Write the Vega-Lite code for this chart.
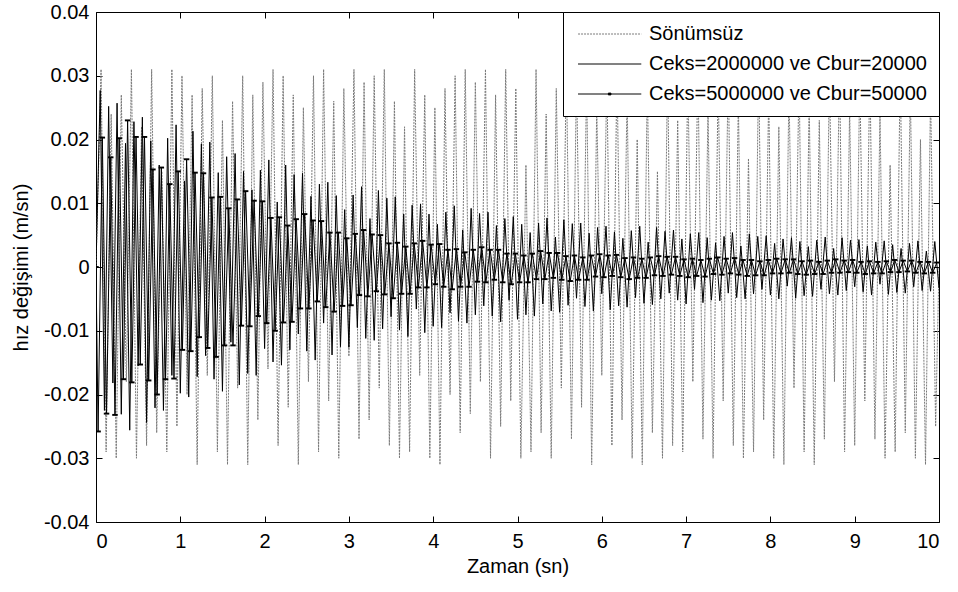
{
"$schema":"https://vega.github.io/schema/vega-lite/v6.json",
"width":843,"height":510,
"autosize":{"type":"none"},
"padding":{"left":96,"top":12,"right":19,"bottom":70},
"background":"white",
"config":{
 "font":"Liberation Sans",
 "view":{"stroke":"black","strokeWidth":1},
 "axis":{"grid":false,"domain":false,"tickColor":"black","tickSize":-6,"labelFontSize":20,"labelColor":"black","titleFontSize":20,"titleFontWeight":"normal","titleColor":"black","labelFont":"Liberation Sans","titleFont":"Liberation Sans"}
},
"datasets":{
"a":[{"t":0,"v":0},{"t":0.06,"v":0.031},{"t":0.12,"v":-0.029},{"t":0.18,"v":0.024},{"t":0.24,"v":-0.030},{"t":0.3,"v":0.027},{"t":0.36,"v":-0.018},{"t":0.42,"v":0.031},{"t":0.48,"v":-0.030},{"t":0.54,"v":0.022},{"t":0.6,"v":-0.028},
{"t":0.66,"v":0.031},{"t":0.72,"v":-0.026},{"t":0.78,"v":0.015},{"t":0.84,"v":-0.029},{"t":0.9,"v":0.031},{"t":0.96,"v":-0.025},{"t":1.02,"v":0.030},{"t":1.08,"v":-0.020},{"t":1.14,"v":0.027},{"t":1.2,"v":-0.031},
{"t":1.26,"v":0.028},{"t":1.32,"v":-0.017},{"t":1.38,"v":0.030},{"t":1.44,"v":-0.029},{"t":1.5,"v":0.023},{"t":1.56,"v":-0.031},{"t":1.62,"v":0.026},{"t":1.68,"v":-0.019},{"t":1.74,"v":0.030},{"t":1.8,"v":-0.031},
{"t":1.86,"v":0.027},{"t":1.92,"v":-0.024},{"t":1.98,"v":0.029},{"t":2.04,"v":-0.016},{"t":2.1,"v":0.031},{"t":2.16,"v":-0.028},{"t":2.22,"v":0.030},{"t":2.28,"v":-0.022},{"t":2.34,"v":0.027},{"t":2.4,"v":-0.031},
{"t":2.46,"v":0.025},{"t":2.52,"v":-0.018},{"t":2.58,"v":0.030},{"t":2.64,"v":-0.029},{"t":2.7,"v":0.031},{"t":2.76,"v":-0.021},{"t":2.82,"v":0.026},{"t":2.88,"v":-0.030},{"t":2.94,"v":0.028},{"t":3.0,"v":-0.014},
{"t":3.06,"v":0.031},{"t":3.12,"v":-0.027},{"t":3.18,"v":0.029},{"t":3.24,"v":-0.024},{"t":3.3,"v":0.030},{"t":3.36,"v":-0.019},{"t":3.42,"v":0.031},{"t":3.48,"v":-0.028},{"t":3.54,"v":0.026},{"t":3.6,"v":-0.030},
{"t":3.66,"v":0.022},{"t":3.72,"v":-0.029},{"t":3.78,"v":0.031},{"t":3.84,"v":-0.017},{"t":3.9,"v":0.027},{"t":3.96,"v":-0.030},{"t":4.02,"v":0.025},{"t":4.08,"v":-0.031},{"t":4.14,"v":0.028},{"t":4.2,"v":-0.020},
{"t":4.26,"v":0.030},{"t":4.32,"v":-0.026},{"t":4.38,"v":0.031},{"t":4.44,"v":-0.023},{"t":4.5,"v":0.029},{"t":4.56,"v":-0.018},{"t":4.62,"v":0.031},{"t":4.68,"v":-0.030},{"t":4.74,"v":0.027},{"t":4.8,"v":-0.025},
{"t":4.86,"v":0.031},{"t":4.92,"v":-0.021},{"t":4.98,"v":0.028},{"t":5.04,"v":-0.030},{"t":5.1,"v":0.016},{"t":5.16,"v":-0.029},{"t":5.22,"v":0.031},{"t":5.28,"v":-0.026},{"t":5.34,"v":0.024},{"t":5.4,"v":-0.030},
{"t":5.46,"v":0.028},{"t":5.52,"v":-0.019},{"t":5.58,"v":0.031},{"t":5.64,"v":-0.027},{"t":5.7,"v":0.030},{"t":5.76,"v":-0.022},{"t":5.82,"v":0.029},{"t":5.88,"v":-0.031},{"t":5.94,"v":0.025},{"t":6.0,"v":-0.017},
{"t":6.06,"v":0.030},{"t":6.12,"v":-0.028},{"t":6.18,"v":0.031},{"t":6.24,"v":-0.024},{"t":6.3,"v":0.027},{"t":6.36,"v":-0.030},{"t":6.42,"v":0.020},{"t":6.48,"v":-0.031},{"t":6.54,"v":0.029},{"t":6.6,"v":-0.026},
{"t":6.66,"v":0.015},{"t":6.72,"v":-0.030},{"t":6.78,"v":0.031},{"t":6.84,"v":-0.028},{"t":6.9,"v":0.023},{"t":6.96,"v":-0.029},{"t":7.02,"v":0.030},{"t":7.08,"v":-0.018},{"t":7.14,"v":0.031},{"t":7.2,"v":-0.027},
{"t":7.26,"v":0.025},{"t":7.32,"v":-0.030},{"t":7.38,"v":0.029},{"t":7.44,"v":-0.021},{"t":7.5,"v":0.031},{"t":7.56,"v":-0.028},{"t":7.62,"v":0.026},{"t":7.68,"v":-0.030},{"t":7.74,"v":0.017},{"t":7.8,"v":-0.029},
{"t":7.86,"v":0.031},{"t":7.92,"v":-0.024},{"t":7.98,"v":0.027},{"t":8.04,"v":-0.030},{"t":8.1,"v":0.022},{"t":8.16,"v":-0.031},{"t":8.22,"v":0.028},{"t":8.28,"v":-0.019},{"t":8.34,"v":0.030},{"t":8.4,"v":-0.029},
{"t":8.46,"v":0.026},{"t":8.52,"v":-0.031},{"t":8.58,"v":0.023},{"t":8.64,"v":-0.027},{"t":8.7,"v":0.030},{"t":8.76,"v":-0.018},{"t":8.82,"v":0.031},{"t":8.88,"v":-0.029},{"t":8.94,"v":0.025},{"t":9.0,"v":-0.028},
{"t":9.06,"v":0.030},{"t":9.12,"v":-0.021},{"t":9.18,"v":0.031},{"t":9.24,"v":-0.027},{"t":9.3,"v":0.024},{"t":9.36,"v":-0.030},{"t":9.42,"v":0.016},{"t":9.48,"v":-0.029},{"t":9.54,"v":0.031},{"t":9.6,"v":-0.026},
{"t":9.66,"v":0.028},{"t":9.72,"v":-0.030},{"t":9.78,"v":0.020},{"t":9.84,"v":-0.031},{"t":9.9,"v":0.027},{"t":9.96,"v":-0.025},{"t":10,"v":0}],
"b":[{"t":0,"v":0},{"t":0.05,"v":0.0277},{"t":0.1,"v":-0.0225},{"t":0.15,"v":0.0252},{"t":0.2,"v":-0.0182},{"t":0.25,"v":0.0257},{"t":0.3,"v":-0.0231},{"t":0.35,"v":0.0194},{"t":0.4,"v":-0.0256},{"t":0.45,"v":0.0228},{"t":0.5,"v":-0.0155},
{"t":0.55,"v":0.0235},{"t":0.6,"v":-0.0244},{"t":0.65,"v":0.0198},{"t":0.7,"v":-0.0221},{"t":0.75,"v":0.0160},{"t":0.8,"v":-0.0225},{"t":0.85,"v":0.0202},{"t":0.9,"v":-0.0170},{"t":0.95,"v":0.0223},{"t":1.0,"v":-0.0198},
{"t":1.05,"v":0.0135},{"t":1.1,"v":-0.0204},{"t":1.15,"v":0.0213},{"t":1.2,"v":-0.0172},{"t":1.25,"v":0.0193},{"t":1.3,"v":-0.0139},{"t":1.35,"v":0.0196},{"t":1.4,"v":-0.0176},{"t":1.45,"v":0.0148},{"t":1.5,"v":-0.0195},
{"t":1.55,"v":0.0173},{"t":1.6,"v":-0.0118},{"t":1.65,"v":0.0178},{"t":1.7,"v":-0.0185},{"t":1.75,"v":0.0150},{"t":1.8,"v":-0.0167},{"t":1.85,"v":0.0121},{"t":1.9,"v":-0.0170},{"t":1.95,"v":0.0152},{"t":2.0,"v":-0.0128},
{"t":2.05,"v":0.0168},{"t":2.1,"v":-0.0149},{"t":2.15,"v":0.0102},{"t":2.2,"v":-0.0154},{"t":2.25,"v":0.0160},{"t":2.3,"v":-0.0130},{"t":2.35,"v":0.0145},{"t":2.4,"v":-0.0105},{"t":2.45,"v":0.0147},{"t":2.5,"v":-0.0132},
{"t":2.55,"v":0.0111},{"t":2.6,"v":-0.0146},{"t":2.65,"v":0.0130},{"t":2.7,"v":-0.0088},{"t":2.75,"v":0.0133},{"t":2.8,"v":-0.0138},{"t":2.85,"v":0.0112},{"t":2.9,"v":-0.0125},{"t":2.95,"v":0.0090},{"t":3.0,"v":-0.0126},
{"t":3.05,"v":0.0113},{"t":3.1,"v":-0.0095},{"t":3.15,"v":0.0126},{"t":3.2,"v":-0.0112},{"t":3.25,"v":0.0076},{"t":3.3,"v":-0.0115},{"t":3.35,"v":0.0120},{"t":3.4,"v":-0.0097},{"t":3.45,"v":0.0108},{"t":3.5,"v":-0.0078},
{"t":3.55,"v":0.0110},{"t":3.6,"v":-0.0099},{"t":3.65,"v":0.0083},{"t":3.7,"v":-0.0109},{"t":3.75,"v":0.0097},{"t":3.8,"v":-0.0066},{"t":3.85,"v":0.0099},{"t":3.9,"v":-0.0103},{"t":3.95,"v":0.0083},{"t":4.0,"v":-0.0093},
{"t":4.05,"v":0.0067},{"t":4.1,"v":-0.0095},{"t":4.15,"v":0.0086},{"t":4.2,"v":-0.0072},{"t":4.25,"v":0.0096},{"t":4.3,"v":-0.0085},{"t":4.35,"v":0.0058},{"t":4.4,"v":-0.0088},{"t":4.45,"v":0.0092},{"t":4.5,"v":-0.0075},
{"t":4.55,"v":0.0084},{"t":4.6,"v":-0.0061},{"t":4.65,"v":0.0086},{"t":4.7,"v":-0.0077},{"t":4.75,"v":0.0065},{"t":4.8,"v":-0.0086},{"t":4.85,"v":0.0076},{"t":4.9,"v":-0.0052},{"t":4.95,"v":0.0079},{"t":5.0,"v":-0.0082},
{"t":5.05,"v":0.0067},{"t":5.1,"v":-0.0075},{"t":5.15,"v":0.0054},{"t":5.2,"v":-0.0077},{"t":5.25,"v":0.0069},{"t":5.3,"v":-0.0058},{"t":5.35,"v":0.0077},{"t":5.4,"v":-0.0069},{"t":5.45,"v":0.0047},{"t":5.5,"v":-0.0071},
{"t":5.55,"v":0.0074},{"t":5.6,"v":-0.0060},{"t":5.65,"v":0.0068},{"t":5.7,"v":-0.0049},{"t":5.75,"v":0.0069},{"t":5.8,"v":-0.0062},{"t":5.85,"v":0.0053},{"t":5.9,"v":-0.0069},{"t":5.95,"v":0.0062},{"t":6.0,"v":-0.0042},
{"t":6.05,"v":0.0064},{"t":6.1,"v":-0.0067},{"t":6.15,"v":0.0055},{"t":6.2,"v":-0.0061},{"t":6.25,"v":0.0045},{"t":6.3,"v":-0.0063},{"t":6.35,"v":0.0057},{"t":6.4,"v":-0.0048},{"t":6.45,"v":0.0064},{"t":6.5,"v":-0.0057},
{"t":6.55,"v":0.0039},{"t":6.6,"v":-0.0059},{"t":6.65,"v":0.0062},{"t":6.7,"v":-0.0050},{"t":6.75,"v":0.0056},{"t":6.8,"v":-0.0041},{"t":6.85,"v":0.0058},{"t":6.9,"v":-0.0052},{"t":6.95,"v":0.0044},{"t":7.0,"v":-0.0058},
{"t":7.05,"v":0.0052},{"t":7.1,"v":-0.0035},{"t":7.15,"v":0.0054},{"t":7.2,"v":-0.0056},{"t":7.25,"v":0.0046},{"t":7.3,"v":-0.0052},{"t":7.35,"v":0.0038},{"t":7.4,"v":-0.0053},{"t":7.45,"v":0.0048},{"t":7.5,"v":-0.0041},
{"t":7.55,"v":0.0054},{"t":7.6,"v":-0.0048},{"t":7.65,"v":0.0033},{"t":7.7,"v":-0.0050},{"t":7.75,"v":0.0052},{"t":7.8,"v":-0.0042},{"t":7.85,"v":0.0048},{"t":7.9,"v":-0.0035},{"t":7.95,"v":0.0049},{"t":8.0,"v":-0.0044},
{"t":8.05,"v":0.0037},{"t":8.1,"v":-0.0050},{"t":8.15,"v":0.0044},{"t":8.2,"v":-0.0030},{"t":8.25,"v":0.0046},{"t":8.3,"v":-0.0049},{"t":8.35,"v":0.0040},{"t":8.4,"v":-0.0045},{"t":8.45,"v":0.0032},{"t":8.5,"v":-0.0046},
{"t":8.55,"v":0.0042},{"t":8.6,"v":-0.0035},{"t":8.65,"v":0.0047},{"t":8.7,"v":-0.0042},{"t":8.75,"v":0.0029},{"t":8.8,"v":-0.0044},{"t":8.85,"v":0.0046},{"t":8.9,"v":-0.0037},{"t":8.95,"v":0.0042},{"t":9.0,"v":-0.0031},
{"t":9.05,"v":0.0043},{"t":9.1,"v":-0.0039},{"t":9.15,"v":0.0033},{"t":9.2,"v":-0.0044},{"t":9.25,"v":0.0039},{"t":9.3,"v":-0.0027},{"t":9.35,"v":0.0041},{"t":9.4,"v":-0.0043},{"t":9.45,"v":0.0035},{"t":9.5,"v":-0.0040},
{"t":9.55,"v":0.0029},{"t":9.6,"v":-0.0041},{"t":9.65,"v":0.0037},{"t":9.7,"v":-0.0031},{"t":9.75,"v":0.0041},{"t":9.8,"v":-0.0037},{"t":9.85,"v":0.0025},{"t":9.9,"v":-0.0038},{"t":9.95,"v":0.0040},{"t":10.0,"v":-0.0033}],
"c":[{"t":0,"v":0},{"t":0.025,"v":-0.0258},{"t":0.075,"v":0.0203},{"t":0.125,"v":-0.0230},{"t":0.175,"v":0.0172},{"t":0.225,"v":-0.0232},{"t":0.275,"v":0.0202},{"t":0.325,"v":-0.0176},{"t":0.375,"v":0.0230},{"t":0.425,"v":-0.0181},{"t":0.475,"v":0.0204},
{"t":0.525,"v":-0.0153},{"t":0.575,"v":0.0204},{"t":0.625,"v":-0.0178},{"t":0.675,"v":0.0153},{"t":0.725,"v":-0.0200},{"t":0.775,"v":0.0156},{"t":0.825,"v":-0.0176},{"t":0.875,"v":0.0130},{"t":0.925,"v":-0.0175},{"t":0.975,"v":0.0150},
{"t":1.025,"v":-0.0130},{"t":1.075,"v":0.0169},{"t":1.125,"v":-0.0132},{"t":1.175,"v":0.0148},{"t":1.225,"v":-0.0110},{"t":1.275,"v":0.0147},{"t":1.325,"v":-0.0127},{"t":1.375,"v":0.0109},{"t":1.425,"v":-0.0141},{"t":1.475,"v":0.0110},
{"t":1.525,"v":-0.0123},{"t":1.575,"v":0.0092},{"t":1.625,"v":-0.0123},{"t":1.675,"v":0.0106},{"t":1.725,"v":-0.0092},{"t":1.775,"v":0.0119},{"t":1.825,"v":-0.0093},{"t":1.875,"v":0.0104},{"t":1.925,"v":-0.0077},{"t":1.975,"v":0.0103},
{"t":2.025,"v":-0.0088},{"t":2.075,"v":0.0077},{"t":2.125,"v":-0.0100},{"t":2.175,"v":0.0078},{"t":2.225,"v":-0.0087},{"t":2.275,"v":0.0065},{"t":2.325,"v":-0.0086},{"t":2.375,"v":0.0075},{"t":2.425,"v":-0.0065},{"t":2.475,"v":0.0083},
{"t":2.525,"v":-0.0065},{"t":2.575,"v":0.0073},{"t":2.625,"v":-0.0054},{"t":2.675,"v":0.0072},{"t":2.725,"v":-0.0063},{"t":2.775,"v":0.0054},{"t":2.825,"v":-0.0070},{"t":2.875,"v":0.0054},{"t":2.925,"v":-0.0061},{"t":2.975,"v":0.0045},
{"t":3.025,"v":-0.0060},{"t":3.075,"v":0.0052},{"t":3.125,"v":-0.0044},{"t":3.175,"v":0.0058},{"t":3.225,"v":-0.0046},{"t":3.275,"v":0.0051},{"t":3.325,"v":-0.0038},{"t":3.375,"v":0.0050},{"t":3.425,"v":-0.0043},{"t":3.475,"v":0.0037},
{"t":3.525,"v":-0.0049},{"t":3.575,"v":0.0038},{"t":3.625,"v":-0.0042},{"t":3.675,"v":0.0032},{"t":3.725,"v":-0.0042},{"t":3.775,"v":0.0037},{"t":3.825,"v":-0.0032},{"t":3.875,"v":0.0041},{"t":3.925,"v":-0.0032},{"t":3.975,"v":0.0035},
{"t":4.025,"v":-0.0027},{"t":4.075,"v":0.0036},{"t":4.125,"v":-0.0031},{"t":4.175,"v":0.0027},{"t":4.225,"v":-0.0035},{"t":4.275,"v":0.0028},{"t":4.325,"v":-0.0031},{"t":4.375,"v":0.0023},{"t":4.425,"v":-0.0031},{"t":4.475,"v":0.0027},
{"t":4.525,"v":-0.0023},{"t":4.575,"v":0.0031},{"t":4.625,"v":-0.0024},{"t":4.675,"v":0.0027},{"t":4.725,"v":-0.0020},{"t":4.775,"v":0.0027},{"t":4.825,"v":-0.0024},{"t":4.875,"v":0.0021},{"t":4.925,"v":-0.0027},{"t":4.975,"v":0.0021},
{"t":5.025,"v":-0.0024},{"t":5.075,"v":0.0018},{"t":5.125,"v":-0.0024},{"t":5.175,"v":0.0021},{"t":5.225,"v":-0.0019},{"t":5.275,"v":0.0025},{"t":5.325,"v":-0.0019},{"t":5.375,"v":0.0022},{"t":5.425,"v":-0.0017},{"t":5.475,"v":0.0022},
{"t":5.525,"v":-0.0020},{"t":5.575,"v":0.0017},{"t":5.625,"v":-0.0022},{"t":5.675,"v":0.0018},{"t":5.725,"v":-0.0020},{"t":5.775,"v":0.0015},{"t":5.825,"v":-0.0020},{"t":5.875,"v":0.0018},{"t":5.925,"v":-0.0015},{"t":5.975,"v":0.0020},
{"t":6.025,"v":-0.0016},{"t":6.075,"v":0.0018},{"t":6.125,"v":-0.0014},{"t":6.175,"v":0.0019},{"t":6.225,"v":-0.0016},{"t":6.275,"v":0.0014},{"t":6.325,"v":-0.0019},{"t":6.375,"v":0.0015},{"t":6.425,"v":-0.0017},{"t":6.475,"v":0.0013},
{"t":6.525,"v":-0.0017},{"t":6.575,"v":0.0015},{"t":6.625,"v":-0.0013},{"t":6.675,"v":0.0017},{"t":6.725,"v":-0.0014},{"t":6.775,"v":0.0016},{"t":6.825,"v":-0.0012},{"t":6.875,"v":0.0016},{"t":6.925,"v":-0.0014},{"t":6.975,"v":0.0012},
{"t":7.025,"v":-0.0016},{"t":7.075,"v":0.0013},{"t":7.125,"v":-0.0014},{"t":7.175,"v":0.0011},{"t":7.225,"v":-0.0015},{"t":7.275,"v":0.0013},{"t":7.325,"v":-0.0011},{"t":7.375,"v":0.0015},{"t":7.425,"v":-0.0012},{"t":7.475,"v":0.0013},
{"t":7.525,"v":-0.0010},{"t":7.575,"v":0.0014},{"t":7.625,"v":-0.0012},{"t":7.675,"v":0.0011},{"t":7.725,"v":-0.0014},{"t":7.775,"v":0.0011},{"t":7.825,"v":-0.0013},{"t":7.875,"v":0.0009},{"t":7.925,"v":-0.0013},{"t":7.975,"v":0.0011},
{"t":8.025,"v":-0.0010},{"t":8.075,"v":0.0013},{"t":8.125,"v":-0.0010},{"t":8.175,"v":0.0012},{"t":8.225,"v":-0.0009},{"t":8.275,"v":0.0012},{"t":8.325,"v":-0.0011},{"t":8.375,"v":0.0009},{"t":8.425,"v":-0.0012},{"t":8.475,"v":0.0010},
{"t":8.525,"v":-0.0011},{"t":8.575,"v":0.0008},{"t":8.625,"v":-0.0011},{"t":8.675,"v":0.0010},{"t":8.725,"v":-0.0009},{"t":8.775,"v":0.0012},{"t":8.825,"v":-0.0009},{"t":8.875,"v":0.0010},{"t":8.925,"v":-0.0008},{"t":8.975,"v":0.0011},
{"t":9.025,"v":-0.0009},{"t":9.075,"v":0.0008},{"t":9.125,"v":-0.0011},{"t":9.175,"v":0.0009},{"t":9.225,"v":-0.0010},{"t":9.275,"v":0.0008},{"t":9.325,"v":-0.0010},{"t":9.375,"v":0.0009},{"t":9.425,"v":-0.0008},{"t":9.475,"v":0.0011},
{"t":9.525,"v":-0.0008},{"t":9.575,"v":0.0010},{"t":9.625,"v":-0.0007},{"t":9.675,"v":0.0010},{"t":9.725,"v":-0.0009},{"t":9.775,"v":0.0008},{"t":9.825,"v":-0.0010},{"t":9.875,"v":0.0008},{"t":9.925,"v":-0.0009},{"t":9.975,"v":0.0007}]
},
"layer":[
 {"data":{"name":"a"},
  "mark":{"type":"line","strokeWidth":1,"strokeDash":[2,1],"clip":true},
  "encoding":{
   "x":{"field":"t","type":"quantitative","scale":{"domain":[0,10],"nice":false,"zero":false},
        "axis":{"orient":"bottom","values":[0,1,2,3,4,5,6,7,8,9,10],"format":"d","labelPadding":15,"title":"Zaman (sn)","titlePadding":5}},
   "y":{"field":"v","type":"quantitative","scale":{"domain":[-0.04,0.04],"nice":false,"zero":false},
        "axis":{"orient":"left","values":[-0.04,-0.03,-0.02,-0.01,0,0.01,0.02,0.03,0.04],"labelExpr":"datum.value == 0 ? '0' : (datum.value < 0 ? '-' : '') + format(abs(datum.value), '.2f')","labelPadding":13,"title":"hız değişimi (m/sn)","titlePadding":12}},
   "color":{"datum":"Sönümsüz","type":"nominal",
     "scale":{"domain":["Sönümsüz","Ceks=2000000 ve Cbur=20000","Ceks=5000000 ve Cbur=50000"],"range":["#7a7a7a","#000000","#000000"]},
     "legend":{"title":null,"orient":"top-right","offset":0,"strokeColor":"black","fillColor":"white","padding":12,"symbolType":"M-2.2,0H17.8","symbolSize":40,"symbolStrokeWidth":1,"labelFontSize":20,"labelFont":"Liberation Sans","labelColor":"black","labelLimit":500,"rowPadding":10,"labelOffset":54,
       "encode":{"symbols":{"update":{
         "strokeDash":{"signal":"datum.label === 'Sönümsüz' ? [2,1] : [1,0]"},
         "shape":{"signal":"datum.label === 'Ceks=5000000 ve Cbur=50000' ? 'M-2.2,0H17.8M7.4,-0.3H8.2V0.3H7.4Z' : 'M-2.2,0H17.8'"}}}}}}
  }},
 {"data":{"name":"b"},
  "mark":{"type":"line","strokeWidth":1,"clip":true},
  "encoding":{
   "x":{"field":"t","type":"quantitative","scale":{"domain":[0,10],"nice":false,"zero":false},
        "axis":{"orient":"top","values":[0,1,2,3,4,5,6,7,8,9,10],"labels":false,"title":null}},
   "y":{"field":"v","type":"quantitative","scale":{"domain":[-0.04,0.04],"nice":false,"zero":false},
        "axis":{"orient":"right","values":[-0.04,-0.03,-0.02,-0.01,0,0.01,0.02,0.03,0.04],"labels":false,"title":null}},
   "color":{"datum":"Ceks=2000000 ve Cbur=20000","type":"nominal"}
  }},
 {"data":{"name":"c"},
  "mark":{"type":"line","strokeWidth":1,"clip":true,"point":{"filled":true,"shape":"M-1,-0.35H1V0.35H-1Z","size":30}},
  "encoding":{
   "x":{"field":"t","type":"quantitative","scale":{"domain":[0,10],"nice":false,"zero":false},"axis":null},
   "y":{"field":"v","type":"quantitative","scale":{"domain":[-0.04,0.04],"nice":false,"zero":false},"axis":null},
   "color":{"datum":"Ceks=5000000 ve Cbur=50000","type":"nominal"}
  }}
],
"resolve":{"scale":{"x":"independent","y":"independent","color":"shared"},"axis":{"x":"independent","y":"independent"}}
}
